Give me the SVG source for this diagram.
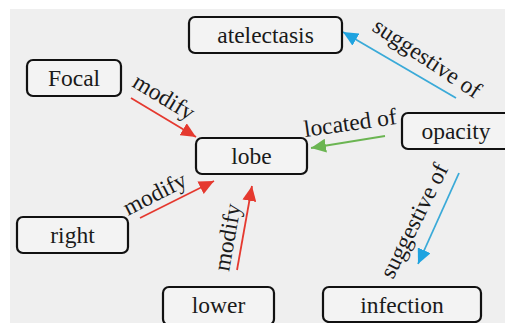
<svg xmlns="http://www.w3.org/2000/svg" width="505" height="323" viewBox="0 0 505 323" font-family="'Liberation Serif', 'Times New Roman', 'DejaVu Serif', serif">
<style>
text{font-family:'Liberation Serif','Times New Roman','DejaVu Serif',serif;font-size:23.5px;fill:#1a1a1a}
.node rect{fill:#f3f3f3;stroke:#111;stroke-width:2.2}
.node text{text-anchor:middle}
.red{stroke:#e5392f;stroke-width:1.8;fill:none}
.green{stroke:#6bb552;stroke-width:1.8;fill:none}
.blue{stroke:#3aaad8;stroke-width:1.8;fill:none}
</style>
<defs>
<marker id="ar" markerWidth="16" markerHeight="14" refX="15" refY="7" orient="auto" markerUnits="userSpaceOnUse"><path d="M0,0 L15,7 L0,14 Z" fill="#e5392f"/></marker>
<marker id="ag" markerWidth="16" markerHeight="14" refX="15" refY="7" orient="auto" markerUnits="userSpaceOnUse"><path d="M0,0 L15,7 L0,14 Z" fill="#6bb552"/></marker>
<marker id="ab" markerWidth="16" markerHeight="14" refX="15" refY="7" orient="auto" markerUnits="userSpaceOnUse"><path d="M0,0 L15,7 L0,14 Z" fill="#1ea3e0"/></marker>
</defs>
<rect x="0" y="0" width="505" height="323" fill="#ffffff"/>
<rect x="10" y="9" width="495" height="314" fill="#efefef"/>
<g id="connectors">
<path class="red" d="M131,98 L196,137" marker-end="url(#ar)"/>
<path class="red" d="M140,218 L214,181" marker-end="url(#ar)"/>
<path class="red" d="M237,270 L252,186" marker-end="url(#ar)"/>
<path class="green" d="M385,136 L311,148" marker-end="url(#ag)"/>
<path class="blue" d="M456,98 L343,32" marker-end="url(#ab)"/>
<path class="blue" d="M459,173 L418,264" marker-end="url(#ab)"/>
<text transform="translate(131,86) rotate(31)">modify</text>
<text transform="translate(128,216) rotate(-27)">modify</text>
<text transform="translate(229,272) rotate(-80)">modify</text>
<text transform="translate(305,137) rotate(-8)">located of</text>
<text transform="translate(371,30) rotate(33.7)">suggestive of</text>
<text transform="translate(393,280) rotate(-63.4)">suggestive of</text>
</g>
<g id="atelectasis" class="node"><rect x="189" y="17" width="153" height="36" rx="6"/><text x="265.5" y="43">atelectasis</text></g>
<g id="focal" class="node"><rect x="27" y="60" width="94" height="36" rx="6"/><text x="74" y="86">Focal</text></g>
<g id="lobe" class="node"><rect x="196" y="138" width="111" height="36" rx="6"/><text x="251.5" y="164">lobe</text></g>
<g id="opacity" class="node"><rect x="402" y="113" width="110" height="36" rx="6"/><text x="456" y="139">opacity</text></g>
<g id="right" class="node"><rect x="17" y="217" width="111" height="36" rx="6"/><text x="72.5" y="243">right</text></g>
<g id="lower" class="node"><rect x="163" y="287" width="111" height="38" rx="6"/><text x="218.5" y="313">lower</text></g>
<g id="infection" class="node"><rect x="323" y="287" width="158" height="35" rx="6"/><text x="402" y="313">infection</text></g>
</svg>
